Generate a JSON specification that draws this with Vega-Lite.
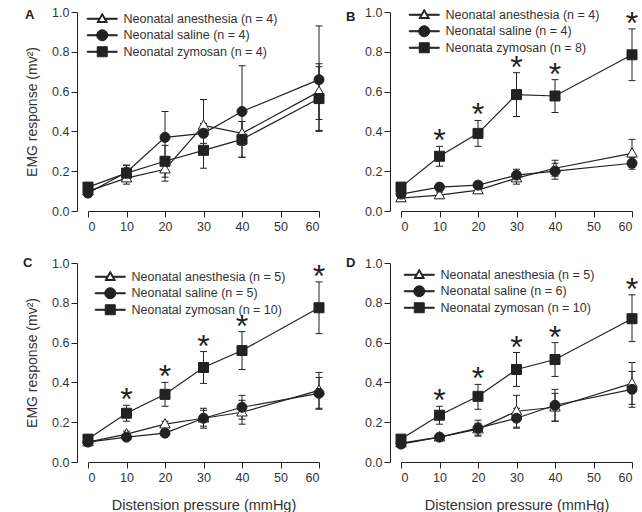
{
  "$schema": "https://vega.github.io/schema/vega-lite/v6.json",
  "padding": {"left": 23, "top": 6, "right": 5, "bottom": 5},
  "background": "white",
  "config": {
    "view": {"stroke": null},
    "font": "Liberation Sans",
    "axis": {"grid": false, "domainColor": "#222", "tickColor": "#222", "labelColor": "#333", "labelFont": "Liberation Sans", "labelFontSize": 12.5, "titleFont": "Liberation Sans", "titleFontWeight": "normal", "titleColor": "#333", "tickSize": 6, "domainWidth": 1, "tickWidth": 1},
    "axisY": {"values": [0, 0.2, 0.4, 0.6, 0.8, 1], "format": ".1f", "offset": 11, "labelPadding": 2, "titleFontSize": 14, "titlePadding": 12},
    "axisX": {"values": [0, 10, 20, 30, 40, 50, 60], "labelPadding": 3, "titleFontSize": 14.5, "titlePadding": 15},
    "legend": {"labelFont": "Liberation Sans", "labelColor": "#333", "labelFontSize": 12.5, "orient": "none", "title": null, "padding": 0, "symbolSize": 100, "labelOffset": 15, "rowPadding": 1.5, "symbolOpacity": 1, "symbolStrokeWidth": 0},
    "title": {"font": "Liberation Sans"},
    "point": {"filled": true, "size": 100, "stroke": "#222", "strokeWidth": 1, "opacity": 1},
    "tick": {"orient": "horizontal", "size": 7, "thickness": 1, "color": "#222", "opacity": 1},
    "rule": {"color": "#222", "strokeWidth": 1},
    "line": {"color": "#222", "strokeWidth": 1.2},
    "text": {"fontSize": 32, "color": "#222", "baseline": "alphabetic"}
  },
  "datasets": {
    "d": [
      {"p":"A","g":"Neonatal anesthesia (n = 4)","x":0,"y":0.10,"lo":0.08,"hi":0.12,"s":0},
      {"p":"A","g":"Neonatal anesthesia (n = 4)","x":10,"y":0.165,"lo":0.135,"hi":0.195,"s":0},
      {"p":"A","g":"Neonatal anesthesia (n = 4)","x":20,"y":0.21,"lo":0.15,"hi":0.27,"s":0},
      {"p":"A","g":"Neonatal anesthesia (n = 4)","x":30,"y":0.43,"lo":0.30,"hi":0.56,"s":0},
      {"p":"A","g":"Neonatal anesthesia (n = 4)","x":40,"y":0.39,"lo":0.33,"hi":0.45,"s":0},
      {"p":"A","g":"Neonatal anesthesia (n = 4)","x":60,"y":0.60,"lo":0.46,"hi":0.74,"s":0},
      {"p":"A","g":"Neonatal saline (n = 4)","x":0,"y":0.09,"lo":0.07,"hi":0.11,"s":0},
      {"p":"A","g":"Neonatal saline (n = 4)","x":10,"y":0.195,"lo":0.16,"hi":0.23,"s":0},
      {"p":"A","g":"Neonatal saline (n = 4)","x":20,"y":0.37,"lo":0.24,"hi":0.50,"s":0},
      {"p":"A","g":"Neonatal saline (n = 4)","x":30,"y":0.39,"lo":0.34,"hi":0.44,"s":0},
      {"p":"A","g":"Neonatal saline (n = 4)","x":40,"y":0.50,"lo":0.27,"hi":0.73,"s":0},
      {"p":"A","g":"Neonatal saline (n = 4)","x":60,"y":0.66,"lo":0.40,"hi":0.93,"s":0},
      {"p":"A","g":"Neonatal zymosan (n = 4)","x":0,"y":0.12,"lo":0.10,"hi":0.14,"s":0},
      {"p":"A","g":"Neonatal zymosan (n = 4)","x":10,"y":0.19,"lo":0.15,"hi":0.23,"s":0},
      {"p":"A","g":"Neonatal zymosan (n = 4)","x":20,"y":0.25,"lo":0.17,"hi":0.33,"s":0},
      {"p":"A","g":"Neonatal zymosan (n = 4)","x":30,"y":0.305,"lo":0.215,"hi":0.395,"s":0},
      {"p":"A","g":"Neonatal zymosan (n = 4)","x":40,"y":0.36,"lo":0.27,"hi":0.45,"s":0},
      {"p":"A","g":"Neonatal zymosan (n = 4)","x":60,"y":0.565,"lo":0.405,"hi":0.725,"s":0},

      {"p":"B","g":"Neonatal anesthesia (n = 4)","x":0,"y":0.065,"lo":0.05,"hi":0.08,"s":0},
      {"p":"B","g":"Neonatal anesthesia (n = 4)","x":10,"y":0.08,"lo":0.065,"hi":0.095,"s":0},
      {"p":"B","g":"Neonatal anesthesia (n = 4)","x":20,"y":0.105,"lo":0.09,"hi":0.12,"s":0},
      {"p":"B","g":"Neonatal anesthesia (n = 4)","x":30,"y":0.165,"lo":0.135,"hi":0.195,"s":0},
      {"p":"B","g":"Neonatal anesthesia (n = 4)","x":40,"y":0.215,"lo":0.175,"hi":0.255,"s":0},
      {"p":"B","g":"Neonatal anesthesia (n = 4)","x":60,"y":0.29,"lo":0.22,"hi":0.36,"s":0},
      {"p":"B","g":"Neonatal saline (n = 4)","x":0,"y":0.085,"lo":0.065,"hi":0.105,"s":0},
      {"p":"B","g":"Neonatal saline (n = 4)","x":10,"y":0.12,"lo":0.105,"hi":0.135,"s":0},
      {"p":"B","g":"Neonatal saline (n = 4)","x":20,"y":0.13,"lo":0.115,"hi":0.145,"s":0},
      {"p":"B","g":"Neonatal saline (n = 4)","x":30,"y":0.18,"lo":0.15,"hi":0.21,"s":0},
      {"p":"B","g":"Neonatal saline (n = 4)","x":40,"y":0.20,"lo":0.16,"hi":0.24,"s":0},
      {"p":"B","g":"Neonatal saline (n = 4)","x":60,"y":0.24,"lo":0.21,"hi":0.27,"s":0},
      {"p":"B","g":"Neonata zymosan (n = 8)","x":0,"y":0.12,"lo":0.10,"hi":0.14,"s":0},
      {"p":"B","g":"Neonata zymosan (n = 8)","x":10,"y":0.275,"lo":0.225,"hi":0.325,"s":1},
      {"p":"B","g":"Neonata zymosan (n = 8)","x":20,"y":0.39,"lo":0.325,"hi":0.455,"s":1},
      {"p":"B","g":"Neonata zymosan (n = 8)","x":30,"y":0.585,"lo":0.475,"hi":0.695,"s":1},
      {"p":"B","g":"Neonata zymosan (n = 8)","x":40,"y":0.578,"lo":0.495,"hi":0.66,"s":1},
      {"p":"B","g":"Neonata zymosan (n = 8)","x":60,"y":0.785,"lo":0.655,"hi":0.915,"s":1},

      {"p":"C","g":"Neonatal anesthesia (n = 5)","x":0,"y":0.10,"lo":0.09,"hi":0.11,"s":0},
      {"p":"C","g":"Neonatal anesthesia (n = 5)","x":10,"y":0.14,"lo":0.125,"hi":0.155,"s":0},
      {"p":"C","g":"Neonatal anesthesia (n = 5)","x":20,"y":0.19,"lo":0.175,"hi":0.205,"s":0},
      {"p":"C","g":"Neonatal anesthesia (n = 5)","x":30,"y":0.22,"lo":0.18,"hi":0.26,"s":0},
      {"p":"C","g":"Neonatal anesthesia (n = 5)","x":40,"y":0.25,"lo":0.19,"hi":0.31,"s":0},
      {"p":"C","g":"Neonatal anesthesia (n = 5)","x":60,"y":0.36,"lo":0.27,"hi":0.45,"s":0},
      {"p":"C","g":"Neonatal saline (n = 5)","x":0,"y":0.10,"lo":0.09,"hi":0.11,"s":0},
      {"p":"C","g":"Neonatal saline (n = 5)","x":10,"y":0.125,"lo":0.11,"hi":0.14,"s":0},
      {"p":"C","g":"Neonatal saline (n = 5)","x":20,"y":0.145,"lo":0.13,"hi":0.16,"s":0},
      {"p":"C","g":"Neonatal saline (n = 5)","x":30,"y":0.22,"lo":0.17,"hi":0.27,"s":0},
      {"p":"C","g":"Neonatal saline (n = 5)","x":40,"y":0.275,"lo":0.215,"hi":0.335,"s":0},
      {"p":"C","g":"Neonatal saline (n = 5)","x":60,"y":0.345,"lo":0.265,"hi":0.425,"s":0},
      {"p":"C","g":"Neonatal zymosan (n = 10)","x":0,"y":0.115,"lo":0.105,"hi":0.125,"s":0},
      {"p":"C","g":"Neonatal zymosan (n = 10)","x":10,"y":0.245,"lo":0.205,"hi":0.285,"s":1},
      {"p":"C","g":"Neonatal zymosan (n = 10)","x":20,"y":0.34,"lo":0.28,"hi":0.40,"s":1},
      {"p":"C","g":"Neonatal zymosan (n = 10)","x":30,"y":0.475,"lo":0.395,"hi":0.555,"s":1},
      {"p":"C","g":"Neonatal zymosan (n = 10)","x":40,"y":0.56,"lo":0.465,"hi":0.655,"s":1},
      {"p":"C","g":"Neonatal zymosan (n = 10)","x":60,"y":0.775,"lo":0.645,"hi":0.905,"s":1},

      {"p":"D","g":"Neonatal anesthesia (n = 5)","x":0,"y":0.095,"lo":0.085,"hi":0.105,"s":0},
      {"p":"D","g":"Neonatal anesthesia (n = 5)","x":10,"y":0.125,"lo":0.11,"hi":0.14,"s":0},
      {"p":"D","g":"Neonatal anesthesia (n = 5)","x":20,"y":0.165,"lo":0.135,"hi":0.195,"s":0},
      {"p":"D","g":"Neonatal anesthesia (n = 5)","x":30,"y":0.255,"lo":0.175,"hi":0.335,"s":0},
      {"p":"D","g":"Neonatal anesthesia (n = 5)","x":40,"y":0.275,"lo":0.205,"hi":0.345,"s":0},
      {"p":"D","g":"Neonatal anesthesia (n = 5)","x":60,"y":0.395,"lo":0.29,"hi":0.50,"s":0},
      {"p":"D","g":"Neonatal saline (n = 6)","x":0,"y":0.09,"lo":0.08,"hi":0.10,"s":0},
      {"p":"D","g":"Neonatal saline (n = 6)","x":10,"y":0.125,"lo":0.11,"hi":0.14,"s":0},
      {"p":"D","g":"Neonatal saline (n = 6)","x":20,"y":0.17,"lo":0.13,"hi":0.21,"s":0},
      {"p":"D","g":"Neonatal saline (n = 6)","x":30,"y":0.22,"lo":0.17,"hi":0.27,"s":0},
      {"p":"D","g":"Neonatal saline (n = 6)","x":40,"y":0.285,"lo":0.205,"hi":0.365,"s":0},
      {"p":"D","g":"Neonatal saline (n = 6)","x":60,"y":0.365,"lo":0.275,"hi":0.455,"s":0},
      {"p":"D","g":"Neonatal zymosan (n = 10)","x":0,"y":0.115,"lo":0.10,"hi":0.13,"s":0},
      {"p":"D","g":"Neonatal zymosan (n = 10)","x":10,"y":0.235,"lo":0.19,"hi":0.28,"s":1},
      {"p":"D","g":"Neonatal zymosan (n = 10)","x":20,"y":0.33,"lo":0.265,"hi":0.39,"s":1},
      {"p":"D","g":"Neonatal zymosan (n = 10)","x":30,"y":0.465,"lo":0.38,"hi":0.55,"s":1},
      {"p":"D","g":"Neonatal zymosan (n = 10)","x":40,"y":0.515,"lo":0.43,"hi":0.60,"s":1},
      {"p":"D","g":"Neonatal zymosan (n = 10)","x":60,"y":0.72,"lo":0.605,"hi":0.84,"s":1}
    ]
  },
  "data": {"name": "d"},
  "columns": 2,
  "spacing": {"row": 52, "column": 82},
  "bounds": "flush",
  "resolve": {"scale": {"shape": "independent"}, "legend": {"shape": "independent"}},
  "concat": [
    {
      "width": 231, "height": 199,
      "title": {"text": "A", "anchor": "start", "frame": "group", "offset": 0, "dx": -63, "dy": 16, "fontSize": 13, "fontWeight": "bold", "color": "#222"},
      "transform": [{"filter": "datum.p === 'A'"}],
      "encoding": {"x": {"field": "x", "type": "quantitative", "scale": {"domain": [0, 60]}, "axis": {"title": null}}, "y": {"field": "y", "type": "quantitative", "scale": {"domain": [0, 1]}, "axis": {"title": "EMG response (mv²)"}}},
      "layer": [
        {"mark": "line", "encoding": {"detail": {"field": "g"}}},
        {"mark": "rule", "encoding": {"y": {"field": "lo", "type": "quantitative", "axis": {"title": "EMG response (mv²)"}}, "y2": {"field": "hi"}}},
        {"mark": "tick", "encoding": {"y": {"field": "lo", "type": "quantitative", "axis": {"title": "EMG response (mv²)"}}}},
        {"mark": "tick", "encoding": {"y": {"field": "hi", "type": "quantitative", "axis": {"title": "EMG response (mv²)"}}}},
        {"transform": [{"filter": "indexof(datum.g, 'anesthesia') >= 0"}], "mark": {"type": "point", "shape": "M0,-1.1L1.05,0.75L-1.05,0.75Z", "fill": "white"}},
        {"transform": [{"filter": "indexof(datum.g, 'saline') >= 0"}], "mark": {"type": "point", "shape": "circle", "fill": "#222"}},
        {"transform": [{"filter": "indexof(datum.g, 'zymosan') >= 0"}], "mark": {"type": "point", "shape": "square", "fill": "#222"}},
        {"mark": {"type": "point", "opacity": 0, "fill": "#222", "strokeWidth": 0},
         "encoding": {
           "shape": {"field": "g", "type": "nominal", "scale": {"domain": ["Neonatal anesthesia (n = 4)", "Neonatal saline (n = 4)", "Neonatal zymosan (n = 4)"], "range": ["M-3,-0.1H-0.58V0.1H-3Z M0.58,-0.1H3V0.1H0.58Z M0,-1.1L1.05,0.75L-1.05,0.75Z M0,-0.695L-0.707,0.55L0.707,0.55Z", "M-3,-0.1H3V0.1H-3Z M1.1,0A1.1,1.1,0,1,1,-1.1,0A1.1,1.1,0,1,1,1.1,0Z", "M-3,-0.1H3V0.1H-3Z M-1,-1H1V1H-1Z"]},
             "legend": {"legendX": 8, "legendY": 0.5}}
         }},
        {"transform": [{"filter": "datum.s === 1"}], "mark": {"type": "text", "text": "*", "dy": 5}, "encoding": {"y": {"field": "hi", "type": "quantitative", "axis": {"title": "EMG response (mv²)"}}}}
      ]
    },
    {
      "width": 231, "height": 199,
      "title": {"text": "B", "anchor": "start", "frame": "group", "offset": 0, "dx": -55, "dy": 18, "fontSize": 13, "fontWeight": "bold", "color": "#222"},
      "transform": [{"filter": "datum.p === 'B'"}],
      "encoding": {"x": {"field": "x", "type": "quantitative", "scale": {"domain": [0, 60]}, "axis": {"title": null}}, "y": {"field": "y", "type": "quantitative", "scale": {"domain": [0, 1]}, "axis": {"title": null}}},
      "layer": [
        {"mark": "line", "encoding": {"detail": {"field": "g"}}},
        {"mark": "rule", "encoding": {"y": {"field": "lo", "type": "quantitative", "axis": {"title": null}}, "y2": {"field": "hi"}}},
        {"mark": "tick", "encoding": {"y": {"field": "lo", "type": "quantitative", "axis": {"title": null}}}},
        {"mark": "tick", "encoding": {"y": {"field": "hi", "type": "quantitative", "axis": {"title": null}}}},
        {"transform": [{"filter": "indexof(datum.g, 'anesthesia') >= 0"}], "mark": {"type": "point", "shape": "M0,-1.1L1.05,0.75L-1.05,0.75Z", "fill": "white"}},
        {"transform": [{"filter": "indexof(datum.g, 'saline') >= 0"}], "mark": {"type": "point", "shape": "circle", "fill": "#222"}},
        {"transform": [{"filter": "indexof(datum.g, 'zymosan') >= 0"}], "mark": {"type": "point", "shape": "square", "fill": "#222"}},
        {"mark": {"type": "point", "opacity": 0, "fill": "#222", "strokeWidth": 0},
         "encoding": {
           "shape": {"field": "g", "type": "nominal", "scale": {"domain": ["Neonatal anesthesia (n = 4)", "Neonatal saline (n = 4)", "Neonata zymosan (n = 8)"], "range": ["M-3,-0.1H-0.58V0.1H-3Z M0.58,-0.1H3V0.1H0.58Z M0,-1.1L1.05,0.75L-1.05,0.75Z M0,-0.695L-0.707,0.55L0.707,0.55Z", "M-3,-0.1H3V0.1H-3Z M1.1,0A1.1,1.1,0,1,1,-1.1,0A1.1,1.1,0,1,1,1.1,0Z", "M-3,-0.1H3V0.1H-3Z M-1,-1H1V1H-1Z"]},
             "legend": {"legendX": 17, "legendY": -3.5}}
         }},
        {"transform": [{"filter": "datum.s === 1"}], "mark": {"type": "text", "text": "*", "dy": 5}, "encoding": {"y": {"field": "hi", "type": "quantitative", "axis": {"title": null}}}}
      ]
    },
    {
      "width": 231, "height": 199,
      "title": {"text": "C", "anchor": "start", "frame": "group", "offset": 0, "dx": -65, "dy": 13, "fontSize": 13, "fontWeight": "bold", "color": "#222"},
      "transform": [{"filter": "datum.p === 'C'"}],
      "encoding": {"x": {"field": "x", "type": "quantitative", "scale": {"domain": [0, 60]}, "axis": {"title": "Distension pressure (mmHg)"}}, "y": {"field": "y", "type": "quantitative", "scale": {"domain": [0, 1]}, "axis": {"title": "EMG response (mv²)"}}},
      "layer": [
        {"mark": "line", "encoding": {"detail": {"field": "g"}}},
        {"mark": "rule", "encoding": {"y": {"field": "lo", "type": "quantitative", "axis": {"title": "EMG response (mv²)"}}, "y2": {"field": "hi"}}},
        {"mark": "tick", "encoding": {"y": {"field": "lo", "type": "quantitative", "axis": {"title": "EMG response (mv²)"}}}},
        {"mark": "tick", "encoding": {"y": {"field": "hi", "type": "quantitative", "axis": {"title": "EMG response (mv²)"}}}},
        {"transform": [{"filter": "indexof(datum.g, 'anesthesia') >= 0"}], "mark": {"type": "point", "shape": "M0,-1.1L1.05,0.75L-1.05,0.75Z", "fill": "white"}},
        {"transform": [{"filter": "indexof(datum.g, 'saline') >= 0"}], "mark": {"type": "point", "shape": "circle", "fill": "#222"}},
        {"transform": [{"filter": "indexof(datum.g, 'zymosan') >= 0"}], "mark": {"type": "point", "shape": "square", "fill": "#222"}},
        {"mark": {"type": "point", "opacity": 0, "fill": "#222", "strokeWidth": 0},
         "encoding": {
           "shape": {"field": "g", "type": "nominal", "scale": {"domain": ["Neonatal anesthesia (n = 5)", "Neonatal saline (n = 5)", "Neonatal zymosan (n = 10)"], "range": ["M-3,-0.1H-0.58V0.1H-3Z M0.58,-0.1H3V0.1H0.58Z M0,-1.1L1.05,0.75L-1.05,0.75Z M0,-0.695L-0.707,0.55L0.707,0.55Z", "M-3,-0.1H3V0.1H-3Z M1.1,0A1.1,1.1,0,1,1,-1.1,0A1.1,1.1,0,1,1,1.1,0Z", "M-3,-0.1H3V0.1H-3Z M-1,-1H1V1H-1Z"]},
             "legend": {"legendX": 16, "legendY": 7.5}}
         }},
        {"transform": [{"filter": "datum.s === 1"}], "mark": {"type": "text", "text": "*", "dy": 5}, "encoding": {"y": {"field": "hi", "type": "quantitative", "axis": {"title": "EMG response (mv²)"}}}}
      ]
    },
    {
      "width": 231, "height": 199,
      "title": {"text": "D", "anchor": "start", "frame": "group", "offset": 0, "dx": -55, "dy": 13, "fontSize": 13, "fontWeight": "bold", "color": "#222"},
      "transform": [{"filter": "datum.p === 'D'"}],
      "encoding": {"x": {"field": "x", "type": "quantitative", "scale": {"domain": [0, 60]}, "axis": {"title": "Distension pressure (mmHg)"}}, "y": {"field": "y", "type": "quantitative", "scale": {"domain": [0, 1]}, "axis": {"title": null}}},
      "layer": [
        {"mark": "line", "encoding": {"detail": {"field": "g"}}},
        {"mark": "rule", "encoding": {"y": {"field": "lo", "type": "quantitative", "axis": {"title": null}}, "y2": {"field": "hi"}}},
        {"mark": "tick", "encoding": {"y": {"field": "lo", "type": "quantitative", "axis": {"title": null}}}},
        {"mark": "tick", "encoding": {"y": {"field": "hi", "type": "quantitative", "axis": {"title": null}}}},
        {"transform": [{"filter": "indexof(datum.g, 'anesthesia') >= 0"}], "mark": {"type": "point", "shape": "M0,-1.1L1.05,0.75L-1.05,0.75Z", "fill": "white"}},
        {"transform": [{"filter": "indexof(datum.g, 'saline') >= 0"}], "mark": {"type": "point", "shape": "circle", "fill": "#222"}},
        {"transform": [{"filter": "indexof(datum.g, 'zymosan') >= 0"}], "mark": {"type": "point", "shape": "square", "fill": "#222"}},
        {"mark": {"type": "point", "opacity": 0, "fill": "#222", "strokeWidth": 0},
         "encoding": {
           "shape": {"field": "g", "type": "nominal", "scale": {"domain": ["Neonatal anesthesia (n = 5)", "Neonatal saline (n = 6)", "Neonatal zymosan (n = 10)"], "range": ["M-3,-0.1H-0.58V0.1H-3Z M0.58,-0.1H3V0.1H0.58Z M0,-1.1L1.05,0.75L-1.05,0.75Z M0,-0.695L-0.707,0.55L0.707,0.55Z", "M-3,-0.1H3V0.1H-3Z M1.1,0A1.1,1.1,0,1,1,-1.1,0A1.1,1.1,0,1,1,1.1,0Z", "M-3,-0.1H3V0.1H-3Z M-1,-1H1V1H-1Z"]},
             "legend": {"legendX": 12, "legendY": 5.5}}
         }},
        {"transform": [{"filter": "datum.s === 1"}], "mark": {"type": "text", "text": "*", "dy": 5}, "encoding": {"y": {"field": "hi", "type": "quantitative", "axis": {"title": null}}}}
      ]
    }
  ]
}
